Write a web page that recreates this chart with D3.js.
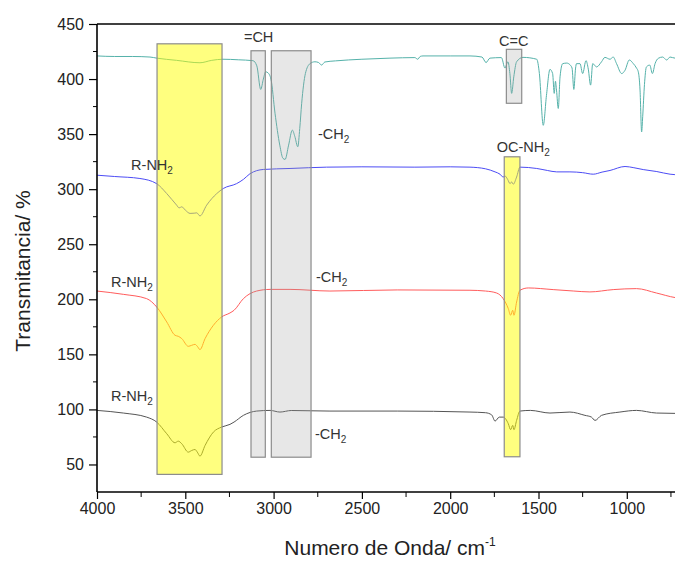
<!DOCTYPE html>
<html>
<head>
<meta charset="utf-8">
<script src="https://cdn.jsdelivr.net/npm/d3@7"></script>
<style>
  body { margin: 0; background: #fff; }
  svg { display: block; font-family: "Liberation Sans", Arial, sans-serif; }
</style>
</head>
<body>
<svg id="chart"></svg>
<script>
// spectra: wavenumber (cm-1) and transmittance (%)
var tealWn = [4000, 3900, 3800, 3700, 3662, 3550, 3417, 3350, 3287, 3200, 3117, 3095, 3073, 3058, 3045, 3032, 3015, 2992, 2965, 2947, 2935, 2915, 2894, 2880, 2863, 2852, 2841, 2820, 2794, 2766, 2745, 2728, 2710, 2650, 2500, 2341, 2200, 2184, 2170, 2154, 2000, 1888, 1820, 1797, 1775, 1710, 1690, 1673, 1662, 1652, 1640, 1624, 1588, 1510, 1495, 1473, 1455, 1435, 1420, 1411, 1404, 1398, 1388, 1378, 1363, 1340, 1322, 1310, 1300, 1290, 1285, 1265, 1250, 1231, 1218, 1205, 1193, 1171, 1143, 1124, 1095, 1077, 1058, 1029, 1010, 986, 963, 945, 935, 925, 916, 910, 900, 889, 870, 855, 840, 822, 797, 774, 755, 727, 700];
var tealT = [421, 420.5, 420.5, 420, 419, 417, 414.8, 417, 418, 417.5, 416.7, 412, 390.6, 400, 406.6, 405.7, 400, 369, 340, 328, 327, 340, 353.6, 348, 338.5, 355, 378, 405, 414, 415.7, 415, 412.7, 415.5, 416.5, 418, 419, 419.5, 418, 420.5, 421, 421, 421, 420, 415, 419, 419.5, 410, 415.7, 405, 387, 402, 415.7, 419.7, 418, 405, 358, 385, 408.8, 405, 387, 398, 390, 373.3, 402, 414, 414.5, 413, 410, 390.6, 410, 414, 414, 405, 416.7, 409, 394.5, 414, 411, 415.7, 419.7, 418, 420, 414, 405, 408, 417.3, 414, 410, 406.6, 390, 352, 365.8, 395, 411, 412.7, 405, 414, 418.8, 420, 417.3, 420, 419, 419];

var blueWn = [4000, 3900, 3757, 3662, 3605, 3549, 3535, 3520, 3500, 3473, 3450, 3435, 3417, 3379, 3322, 3285, 3210, 3170, 3134, 3058, 2907, 2700, 2500, 2200, 2000, 1888, 1800, 1746, 1718, 1700, 1690, 1675, 1661, 1652, 1643, 1624, 1605, 1510, 1450, 1397, 1322, 1250, 1190, 1140, 1095, 1010, 960, 907, 830, 755, 700];
var blueT = [312.7, 311.5, 309.7, 305, 296, 285.5, 283, 284, 281, 278, 278.2, 278.5, 275.7, 285.5, 296, 300.6, 305, 309, 314, 317.9, 318.8, 320, 320.3, 320, 320.3, 320, 318.5, 315.7, 313.6, 311, 312, 309, 305, 306.6, 304.5, 311, 320, 318.8, 317, 315.7, 315.7, 315, 313.6, 315.5, 317, 320.6, 319.5, 317.8, 316, 313.6, 313];

var redWn = [4000, 3851, 3719, 3662, 3605, 3558, 3540, 3520, 3483, 3464, 3445, 3432, 3417, 3388, 3341, 3294, 3247, 3224, 3171, 3096, 3020, 2907, 2681, 2300, 1888, 1800, 1737, 1700, 1671, 1658, 1646, 1639, 1624, 1605, 1558, 1417, 1300, 1209, 1077, 945, 832, 727, 700];
var redT = [207.5, 204.5, 200.6, 193, 179.4, 167.3, 166.4, 164.3, 157.3, 158.2, 159.1, 157.3, 154.3, 164.3, 176.4, 184, 187.6, 190, 200.6, 207.5, 209, 209, 207.5, 208.5, 208.2, 207.5, 205.7, 200.6, 191.5, 185.5, 190, 185.5, 197.5, 208.2, 210.3, 208.8, 207.5, 206.7, 208.8, 209.7, 205.7, 201.6, 201];

var grayWn = [4000, 3851, 3719, 3662, 3605, 3558, 3540, 3520, 3483, 3464, 3445, 3432, 3417, 3388, 3341, 3294, 3247, 3224, 3171, 3096, 3020, 2964, 2900, 2681, 2300, 1888, 1800, 1765, 1746, 1722, 1700, 1671, 1658, 1646, 1639, 1624, 1605, 1546, 1435, 1322, 1237, 1200, 1180, 1143, 1039, 945, 832, 727, 700];
var grayT = [99.1, 96.7, 93, 88.5, 77.9, 69.7, 71.2, 68.8, 61.2, 62.7, 63.6, 61.2, 57.6, 67.3, 79.4, 84, 86.4, 88.5, 94.6, 98.5, 99.1, 97.6, 99, 98.5, 98.5, 97.6, 97, 95, 89.4, 93, 93, 87, 81.6, 85.5, 81.6, 90, 98.5, 99.1, 96.7, 97.6, 94.6, 93, 90, 94.6, 97.6, 99.1, 96.7, 96.4, 96];

// highlighted bands: [wn from, wn to, T low, T high]
var bandRanges = [[3660, 3292, 41, 432], [3128, 3047, 56.6, 425.7], [3013, 2788, 56.6, 425.7], [1682, 1595, 378, 427], [1694, 1605, 57, 329.4]];
var bandKinds = ["yellow", "gray", "gray", "gray", "yellow"];

// labels: text, subscript, wavenumber at start, T at baseline
var labelText = ["=CH", "-CH", "C=C", "OC-NH", "R-NH", "R-NH", "-CH", "R-NH", "-CH"];
var labelSub = ["", "2", "", "2", "2", "2", "2", "2", "2"];
var labelWn = [3168, 2749, 1724, 1737, 3807, 3921, 2760, 3921, 2766];
var labelT = [433.9, 345.5, 430, 333.9, 317.3, 210.9, 215.7, 107.3, 72.7];

var xTicks = [4000, 3500, 3000, 2500, 2000, 1500, 1000];
var yTicks = [50, 100, 150, 200, 250, 300, 350, 400, 450];

var width = 675, height = 561;
var margin = {top: 24, right: -5, bottom: 69, left: 97};

var svg = d3.select("#chart").attr("width", width).attr("height", height);

var x = d3.scaleLinear().domain([4000, 700]).range([margin.left, margin.left + 3300 * 0.1766]);
var y = d3.scaleLinear().domain([25, 450]).range([height - margin.bottom, margin.top]);

svg.append("clipPath").attr("id", "plot")
  .append("rect")
  .attr("x", margin.left).attr("y", margin.top)
  .attr("width", width - margin.left).attr("height", height - margin.bottom - margin.top);

var series = [
  {wn: tealWn, t: tealT, color: "#55b2aa"},
  {wn: blueWn, t: blueT, color: "#4c4cf5"},
  {wn: redWn, t: redT, color: "#ff5c5c"},
  {wn: grayWn, t: grayT, color: "#555555"}
];

var line = d3.line()
  .x(d => x(d[0]))
  .y(d => y(d[1]))
  .curve(d3.curveMonotoneX);

var plot = svg.append("g").attr("clip-path", "url(#plot)");

plot.selectAll("path.spec")
  .data(series)
  .enter().append("path")
  .attr("class", "spec")
  .attr("fill", "none")
  .attr("stroke", d => d.color)
  .attr("stroke-width", 1)
  .attr("d", d => line(d.wn.map((w, i) => [w, d.t[i]])));

// translucent bands over the curves
plot.selectAll("rect.band")
  .data(bandRanges)
  .enter().append("rect")
  .attr("class", "band")
  .attr("x", d => x(d[0]))
  .attr("width", d => x(d[1]) - x(d[0]))
  .attr("y", d => y(d[3]))
  .attr("height", d => y(d[2]) - y(d[3]))
  .attr("fill", (d, i) => bandKinds[i] == "yellow" ? "rgba(255,255,0,0.5)" : "rgba(160,160,160,0.25)")
  .attr("stroke", "#8c8c8c")
  .attr("stroke-width", 1.2);

// labels
var lab = svg.append("g")
  .attr("font-size", 14.5)
  .attr("fill", "#333");

labelText.forEach(function(t, i) {
  var txt = lab.append("text")
    .attr("x", x(labelWn[i]))
    .attr("y", y(labelT[i]));
  txt.append("tspan").text(t);
  if (labelSub[i]) {
    txt.append("tspan").attr("font-size", 10).attr("dy", 4).text(labelSub[i]);
  }
});

// axes
var xAxis = svg.append("g")
  .attr("transform", `translate(0,${height - margin.bottom})`)
  .call(d3.axisBottom(x).tickValues(xTicks).tickSize(7).tickPadding(4).tickFormat(d3.format("d")));
xAxis.append("g").selectAll("line")
  .data(d3.range(3750, 700, -500))
  .enter().append("line")
  .attr("x1", d => x(d)).attr("x2", d => x(d))
  .attr("y1", 0).attr("y2", 5)
  .attr("stroke", "#000");

var yAxis = svg.append("g")
  .attr("transform", `translate(${margin.left},0)`)
  .call(d3.axisLeft(y).tickValues(yTicks).tickSize(8).tickPadding(5));
yAxis.append("g").selectAll("line")
  .data(d3.range(75, 450, 50))
  .enter().append("line")
  .attr("x1", 0).attr("x2", -4)
  .attr("y1", d => y(d)).attr("y2", d => y(d))
  .attr("stroke", "#000");

[xAxis, yAxis].forEach(function(g) {
  g.selectAll(".domain").attr("stroke-width", 1.6);
  g.selectAll(".tick line").attr("stroke-width", 1.2);
  g.selectAll(".tick text")
    .attr("font-size", 16)
    .attr("font-family", "Liberation Sans, Arial, sans-serif")
    .attr("fill", "#222");
});
xAxis.select(".domain").attr("d", `M${margin.left},0H${width}`);
yAxis.select(".domain").attr("d", `M0,${y(25)}V${margin.top}`);

// top frame
svg.append("line")
  .attr("x1", margin.left).attr("x2", width)
  .attr("y1", margin.top).attr("y2", margin.top)
  .attr("stroke", "#000").attr("stroke-width", 1.6);

// axis titles
svg.append("text")
  .attr("transform", `translate(30,${(189 + 353) / 2}) rotate(-90)`)
  .attr("text-anchor", "middle")
  .attr("font-size", 21)
  .attr("fill", "#222")
  .text("Transmitancia/ %");

var xt = svg.append("text")
  .attr("x", 390)
  .attr("y", 555)
  .attr("text-anchor", "middle")
  .attr("font-size", 21)
  .attr("fill", "#222");
xt.append("tspan").text("Numero de Onda/ cm");
xt.append("tspan").attr("font-size", 12).attr("dy", -9).text("-1");
</script>
</body>
</html>
